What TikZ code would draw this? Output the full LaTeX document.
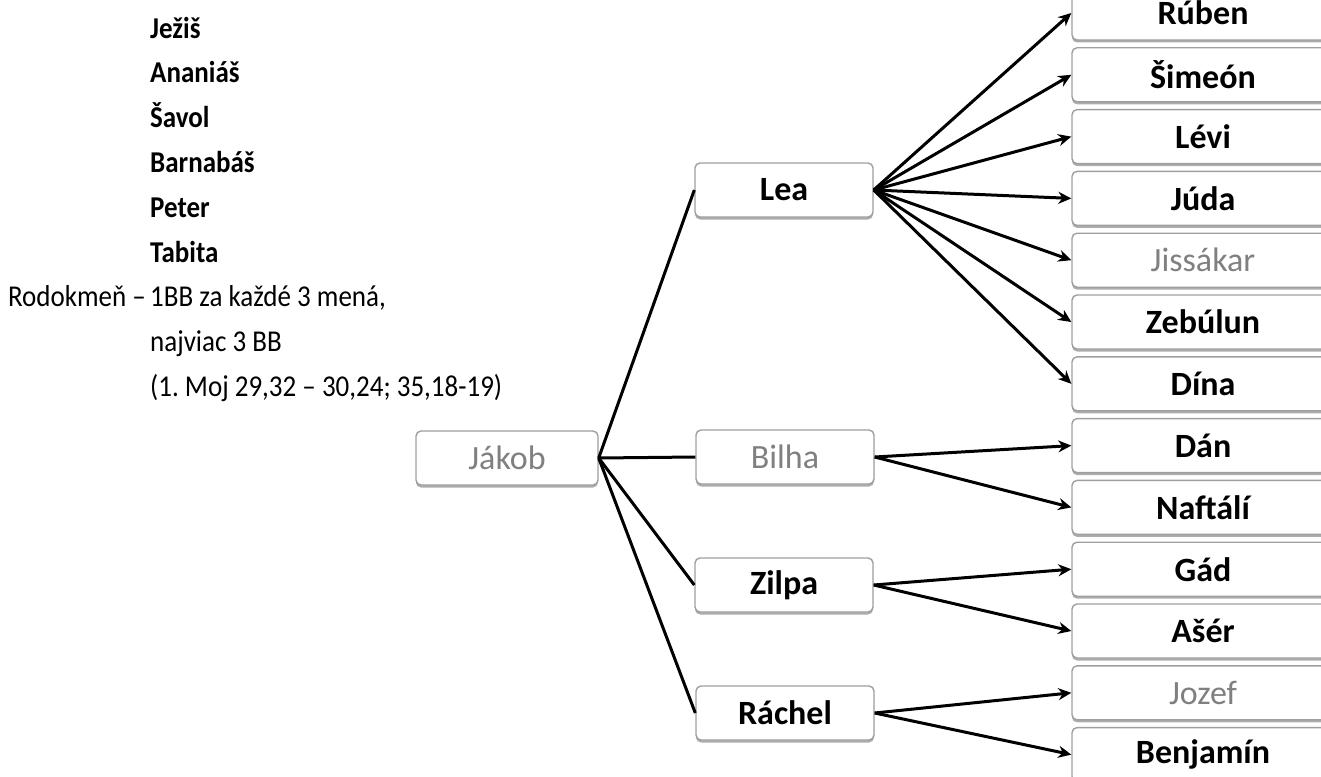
\documentclass[tikz,border=0pt]{standalone}
\usepackage{fontspec}
\usepackage{graphicx}
\setmainfont{Carlito}
\usetikzlibrary{arrows.meta,shadows}
\frenchspacing

\newcommand\boxfont{\fontsize{34}{40}\selectfont}
\newcommand\listfont{\fontsize{27}{32}\selectfont}
\newcommand\tall[1]{\scalebox{1}[1.12]{#1}}

\tikzset{
  box/.style={draw=gray!75, line width=1.4pt, rounded corners=5pt, fill=white,
    drop shadow={shadow xshift=0pt, shadow yshift=-2.5pt, fill=gray!80, opacity=0.8},
    minimum height=54pt, inner sep=0pt},
  named/.style={box, font=\boxfont\bfseries, text=black},
  faded/.style={box, font=\boxfont, text=black!50},
  kid/.style={named, minimum width=262pt},
  kidfaded/.style={faded, minimum width=262pt},
  link/.style={line width=3pt},
  arr/.style={line width=3pt, -{Stealth[length=13pt,width=12pt]}},
  plain/.style={inner sep=0pt, anchor=base west, font=\listfont}
}

\begin{document}
\begin{tikzpicture}[x=1pt, y=-1pt]
  \useasboundingbox (0,0) rectangle (1321,776);
  \clip (0,0) rectangle (1321,776);

  % Names on the left
  \foreach \nm/\lbl [count=\i from 0] in {jezis/Ježiš, ananias/Ananiáš, savol/Šavol,
      barnabas/Barnabáš, peter/Peter, tabita/Tabita} {
    \node[plain, font=\listfont\bfseries] (\nm) at (150,{38+44.8*\i}) {\tall{\lbl}};
  }

  % Task text
  \node[plain, anchor=base east] (rodokmen) at (146,306) {\tall{Rodokmeň –}};
  \node[plain] (rule1) at (150,306) {\tall{1BB za každé 3 mená,}};
  \node[plain] (rule2) at (150,351) {\tall{najviac 3 BB}};
  \node[plain] (rule3) at (150,396) {\tall{(1. Moj 29,32 – 30,24; 35,18-19)}};

  % Father and wives
  \node[faded, minimum width=182pt] (jakob) at (507,458) {Jákob};
  \node[named, minimum width=178pt] (lea) at (784,190) {Lea};
  \node[faded, minimum width=178pt] (bilha) at (785,457) {Bilha};
  \node[named, minimum width=178pt] (zilpa) at (784,585) {Zilpa};
  \node[named, minimum width=178pt] (rachel) at (785,713) {Ráchel};

  % Sons and daughter
  \foreach \nm/\lbl/\st [count=\i from 0] in {ruben/Rúben/kid, simeon/Šimeón/kid,
      levi/Lévi/kid, juda/Júda/kid, jissakar/Jissákar/kidfaded, zebulun/Zebúlun/kid,
      dina/Dína/kid, dan/Dán/kid, naftali/Naftálí/kid, gad/Gád/kid, aser/Ašér/kid,
      jozef/Jozef/kidfaded, benjamin/Benjamín/kid} {
    \node[\st] (\nm) at (1203,{13+61.8*\i}) {\lbl};
  }

  % Jakob to the wives
  \foreach \w in {lea, bilha, zilpa, rachel} {
    \draw[link] (jakob.east) -- (\w.west);
  }

  % Wives to the children
  \foreach \w/\k in {lea/ruben, lea/simeon, lea/levi, lea/juda, lea/jissakar,
      lea/zebulun, lea/dina, bilha/dan, bilha/naftali, zilpa/gad, zilpa/aser,
      rachel/jozef, rachel/benjamin} {
    \draw[arr] (\w.east) -- (\k.west);
  }
\end{tikzpicture}
\end{document}
